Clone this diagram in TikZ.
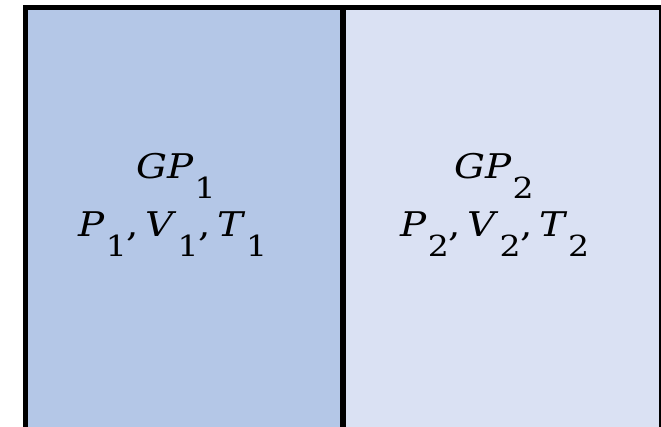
\documentclass[tikz,border=0pt]{standalone}
\usepackage{fontspec}
\setmainfont{DejaVu Serif}
\definecolor{leftblue}{RGB}{180,199,231}
\definecolor{rightblue}{RGB}{218,225,243}
\newcommand\vsym[2]{\textit{#1}\kern0.5pt\raisebox{-20pt}{\fontsize{29}{29}\selectfont #2}}
\begin{document}
\begin{tikzpicture}[x=1pt,y=1pt,
  lbl/.style={anchor=base,inner sep=0pt,font=\fontsize{34}{40}\selectfont,xscale=1.14,transform shape},
  wall/.style={draw=black,line width=5.5pt}]
\useasboundingbox (0,0) rectangle (661,427);
\begin{scope}
\clip (0,0) rectangle (661,427);
\fill[leftblue] (25.5,-5) rectangle (343,419.5);
\fill[rightblue] (343,-5) rectangle (661.5,419.5);
\draw[wall,line join=miter] (25.5,-2.5) rectangle (661.5,419.5);
\draw[wall] (343,-5) -- (343,419.5);
\end{scope}
\node[lbl] (g1) at (176,248) {\textit{G}\vsym{P}{1}};
\node[lbl] (s1) at (173,190) {\vsym{P}{1},\,\vsym{V}{1},\,\vsym{T}{1}};
\node[lbl] (g2) at (494,248) {\textit{G}\vsym{P}{2}};
\node[lbl] (s2) at (495,190) {\vsym{P}{2},\,\vsym{V}{2},\,\vsym{T}{2}};
\end{tikzpicture}
\end{document}
